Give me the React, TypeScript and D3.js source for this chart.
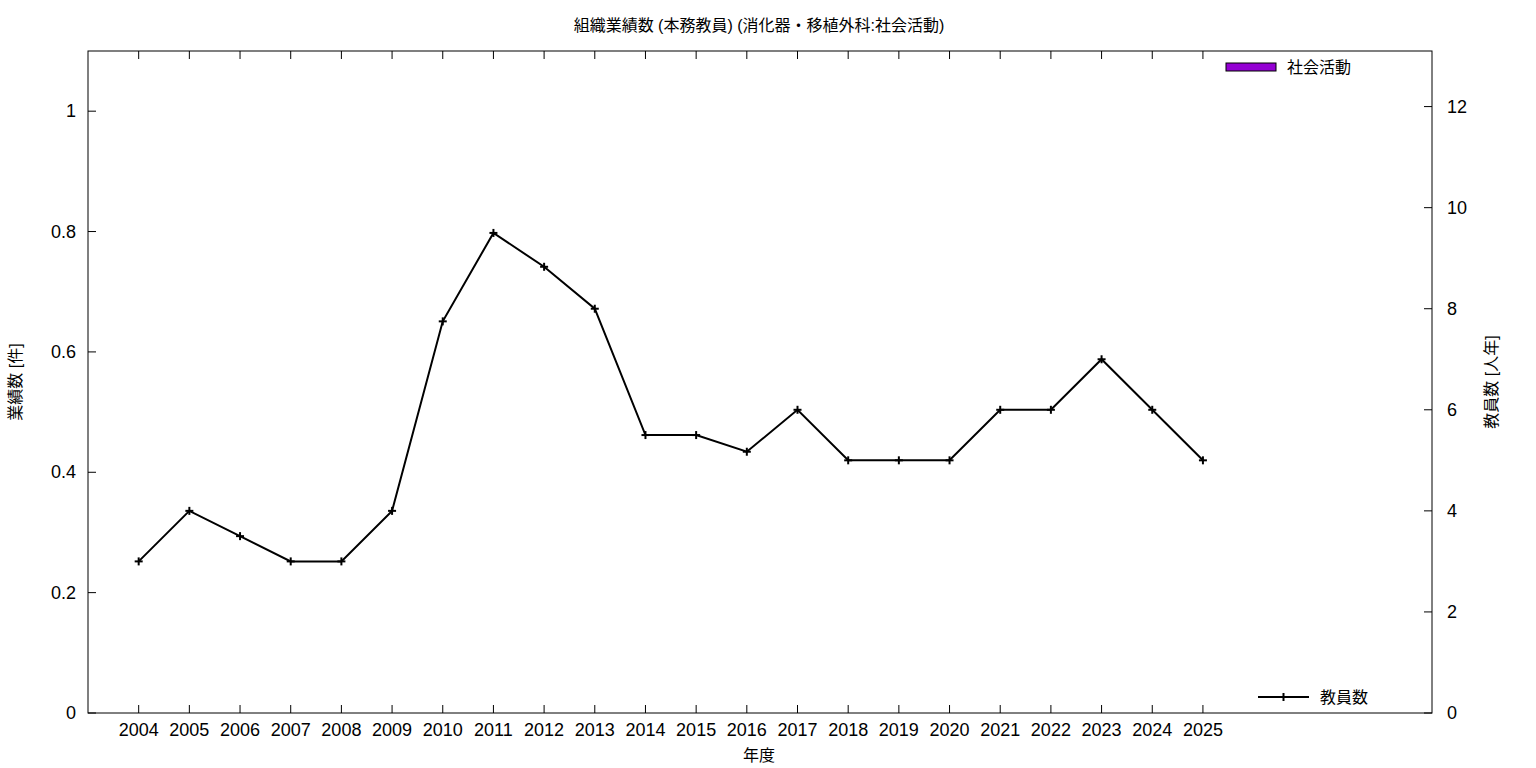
import React from 'react';
import * as d3 from 'd3';

// 年度
const years = [2004, 2005, 2006, 2007, 2008, 2009, 2010, 2011, 2012, 2013, 2014, 2015, 2016, 2017, 2018, 2019, 2020, 2021, 2022, 2023, 2024, 2025];
// 社会活動 (業績数) — all zero in the reference
const socialActivity = [0, 0, 0, 0, 0, 0, 0, 0, 0, 0, 0, 0, 0, 0, 0, 0, 0, 0, 0, 0, 0, 0];
// 教員数 (人年)
const teachers = [3, 4, 3.5, 3, 3, 4, 7.75, 9.5, 8.83, 8, 5.5, 5.5, 5.17, 6, 5, 5, 5, 6, 6, 7, 6, 5];

const leftTicks = [0, 0.2, 0.4, 0.6, 0.8, 1];
const rightTicks = [0, 2, 4, 6, 8, 10, 12];

const W = 1536;
const H = 768;
const margin = { top: 51, right: 104, bottom: 55, left: 88 };
const FONT = '"Liberation Sans", "Noto Sans CJK JP", sans-serif';
const BAR_COLOR = '#9400d3';

const App: React.FC = () => {
  const x0 = margin.left;
  const x1 = W - margin.right;
  const y0 = H - margin.bottom;
  const y1 = margin.top;

  const x = d3.scaleLinear().domain([2003, 2029.52]).range([x0, x1]);
  const yL = d3.scaleLinear().domain([0, 1.1]).range([y0, y1]);
  const yR = d3.scaleLinear().domain([0, 13.1]).range([y0, y1]);

  const line = d3.line<number>()
    .x((_, i) => x(years[i]))
    .y(d => yR(d));

  const tickLen = 8;
  const barW = 30;

  return (
    <div style={{ position: 'absolute', left: 0, top: 0 }}>
      <svg width={W} height={H} style={{ display: 'block', background: '#fff' }} fontFamily={FONT}>
        {/* title */}
        <text x={759} y={31} textAnchor="middle" fontSize={16} fill="#000">
          組織業績数 (本務教員) (消化器・移植外科:社会活動)
        </text>

        {/* bars (zero height) */}
        {socialActivity.map((v, i) => (
          <rect key={'b' + i} x={x(years[i]) - barW / 2} y={yL(v)} width={barW}
            height={y0 - yL(v)} fill={BAR_COLOR} stroke="#000" strokeWidth={v > 0 ? 1 : 0} />
        ))}

        {/* frame */}
        <rect x={x0} y={y1} width={x1 - x0} height={y0 - y1} fill="none" stroke="#000" strokeWidth={1} />

        {/* left ticks */}
        {leftTicks.map(t => (
          <g key={'l' + t}>
            <line x1={x0} x2={x0 + tickLen} y1={yL(t)} y2={yL(t)} stroke="#000" />
            <text x={76} y={yL(t) + 6} textAnchor="end" fontSize={18}>{t === 0 || t === 1 ? String(t) : t.toFixed(1)}</text>
          </g>
        ))}

        {/* right ticks */}
        {rightTicks.map(t => (
          <g key={'r' + t}>
            <line x1={x1} x2={x1 - tickLen} y1={yR(t)} y2={yR(t)} stroke="#000" />
            <text x={1447} y={yR(t) + 6} textAnchor="start" fontSize={18}>{t}</text>
          </g>
        ))}

        {/* x ticks (mirrored top) */}
        {years.map(yr => (
          <g key={'x' + yr}>
            <line x1={x(yr)} x2={x(yr)} y1={y0} y2={y0 - tickLen} stroke="#000" />
            <line x1={x(yr)} x2={x(yr)} y1={y1} y2={y1 + tickLen} stroke="#000" />
            <text x={x(yr)} y={736} textAnchor="middle" fontSize={18}>{yr}</text>
          </g>
        ))}

        {/* axis labels */}
        <text x={759} y={761} textAnchor="middle" fontSize={16}>年度</text>
        <text transform={`translate(21,${(y0 + y1) / 2}) rotate(-90)`} textAnchor="middle" fontSize={16}>業績数 [件]</text>
        <text transform={`translate(1497,${(y0 + y1) / 2}) rotate(-90)`} textAnchor="middle" fontSize={16}>教員数 [人年]</text>

        {/* teacher line */}
        <path d={line(teachers) || ''} fill="none" stroke="#000" strokeWidth={2} />
        {teachers.map((v, i) => (
          <g key={'p' + i} stroke="#000" strokeWidth={2}>
            <line x1={x(years[i]) - 4} x2={x(years[i]) + 4} y1={yR(v)} y2={yR(v)} />
            <line x1={x(years[i])} x2={x(years[i])} y1={yR(v) - 4} y2={yR(v) + 4} />
          </g>
        ))}

        {/* legend: bars */}
        <rect x={1226} y={63} width={50} height={8} fill={BAR_COLOR} stroke="#000" strokeWidth={1} />
        <text x={1287} y={73} fontSize={16}>社会活動</text>

        {/* legend: line */}
        <g stroke="#000" strokeWidth={2}>
          <line x1={1258} x2={1309} y1={697} y2={697} />
          <line x1={1283.5} x2={1283.5} y1={693} y2={701} />
        </g>
        <text x={1320} y={703} fontSize={16}>教員数</text>
      </svg>
    </div>
  );
};

export default App;
